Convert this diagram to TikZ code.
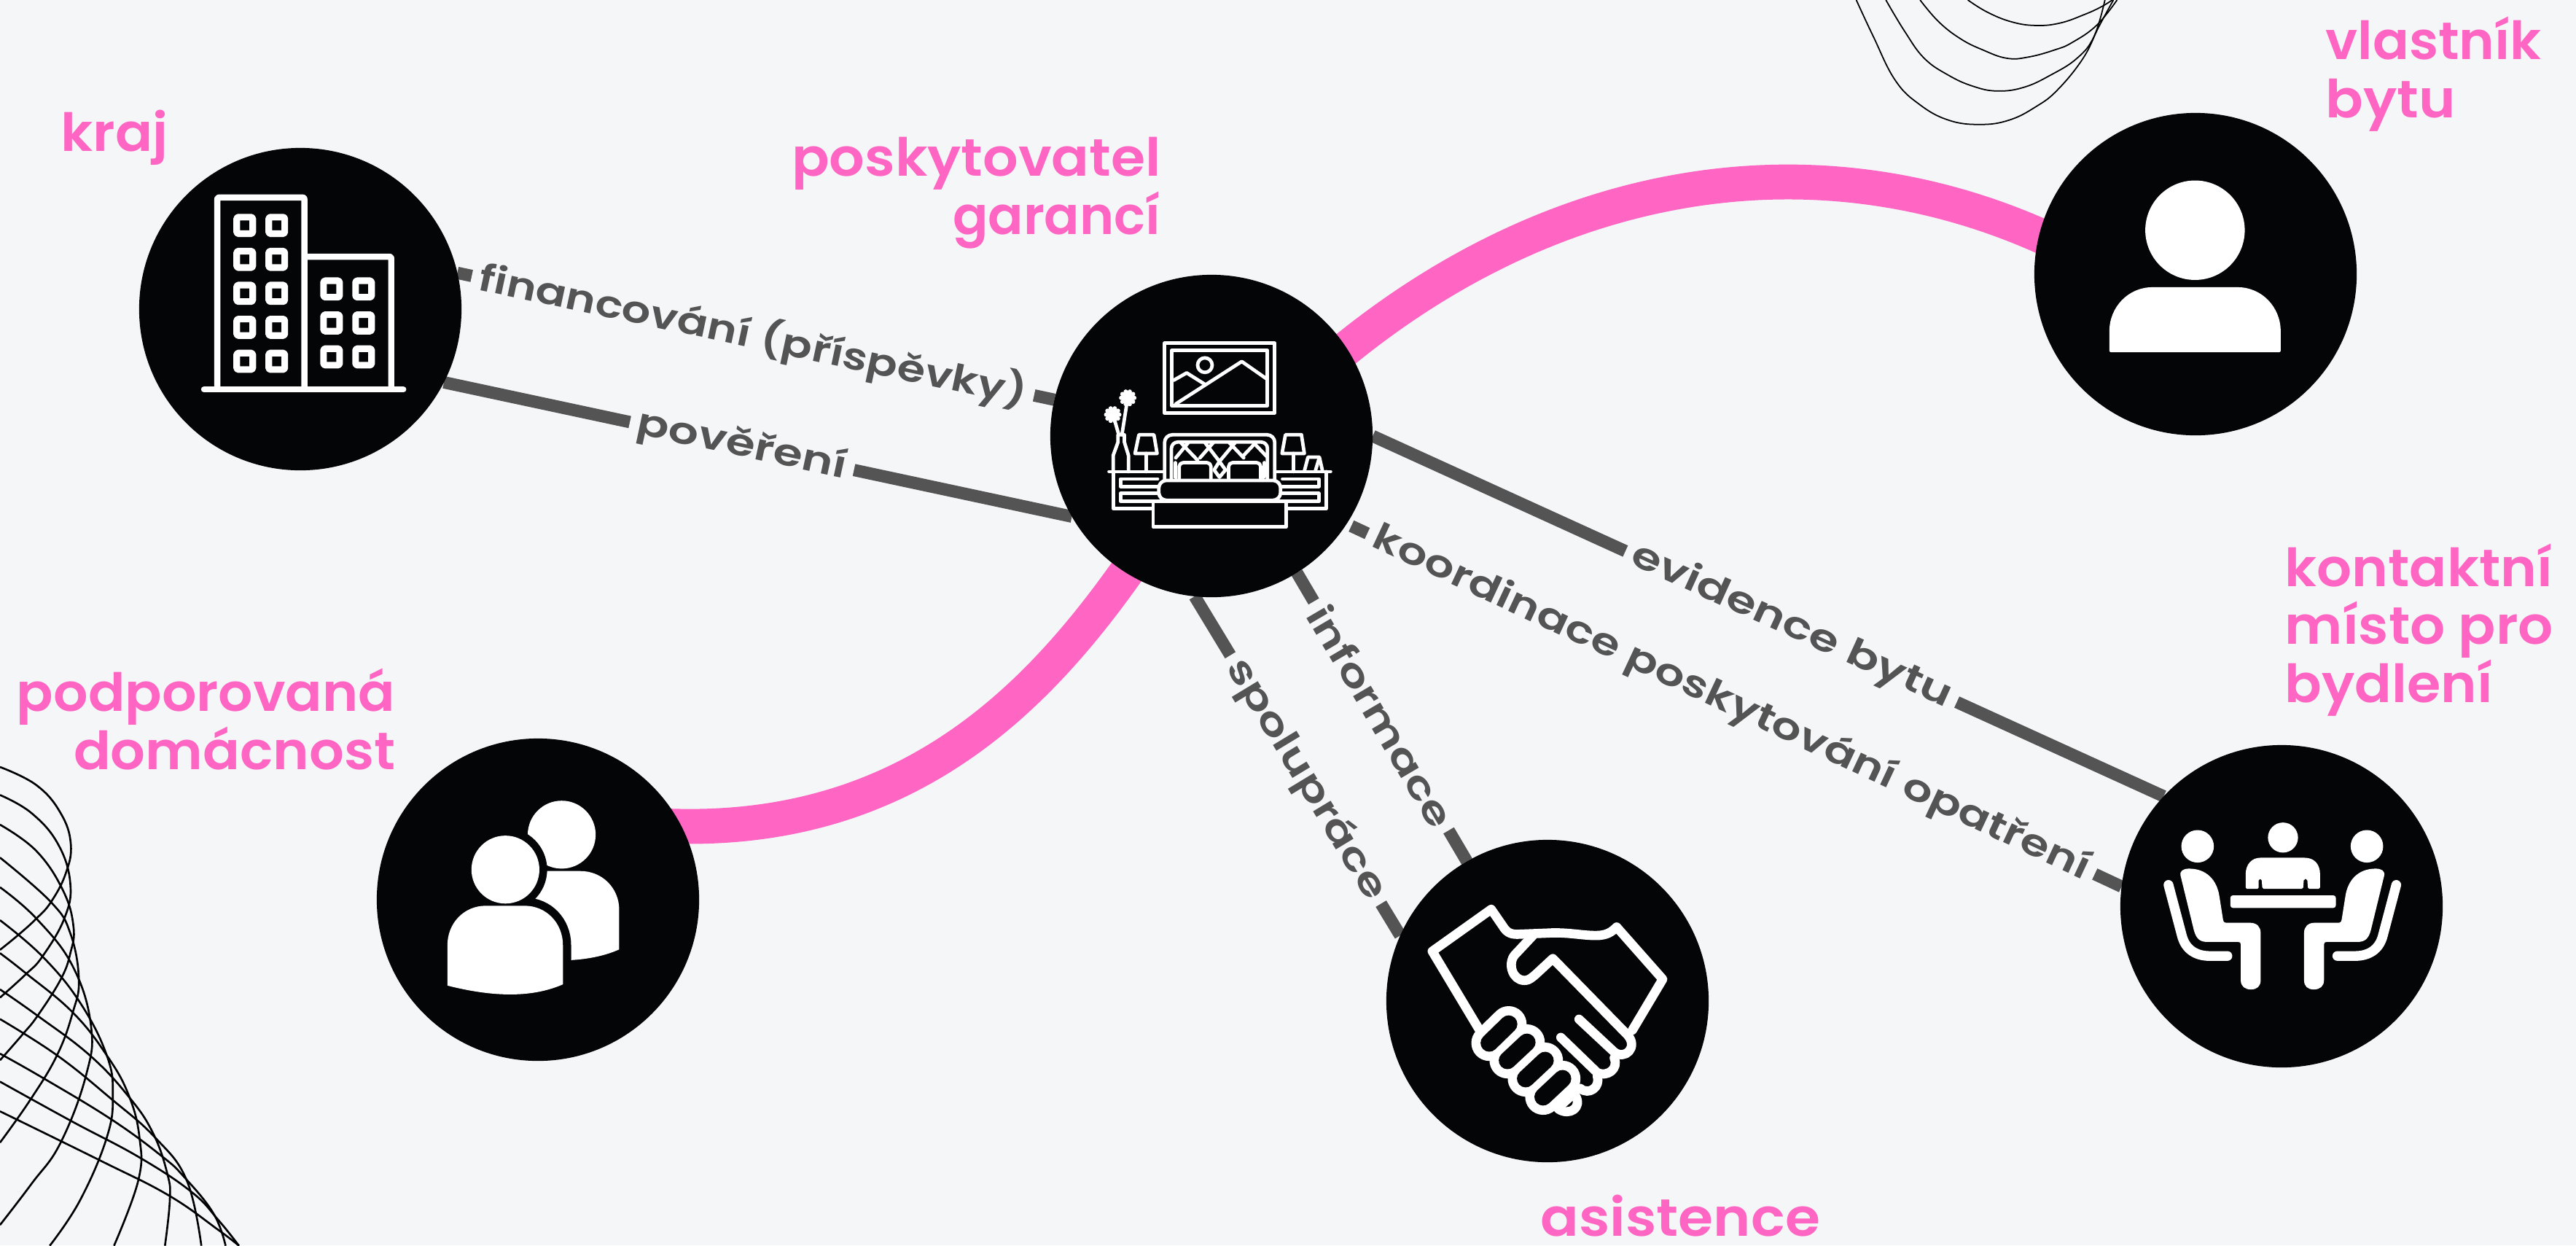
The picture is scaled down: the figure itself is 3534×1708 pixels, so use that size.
\documentclass[tikz,border=0pt]{standalone}
\usepackage{graphicx}
\usepackage{fontspec}
\setmainfont{Poppins}[BoldFont={Poppins SemiBold}]
\pgfdeclarelayer{backlay}
\pgfdeclarelayer{connlay}
\pgfsetlayers{backlay,connlay,main}
\definecolor{bgc}{HTML}{F5F6F8}
\definecolor{pinkc}{HTML}{FF66C4}
\definecolor{grayc}{HTML}{545454}
\definecolor{hubc}{HTML}{040507}
\newsavebox\fitbox
\newcommand\fitw[2]{\sbox\fitbox{#2}\pgfmathsetmacro\fitr{#1*0.28453/\the\wd\fitbox}\scalebox{\fitr}[1]{\usebox\fitbox}}
\newcommand\wirecurve[1]{\draw[thinwire] plot[smooth,tension=.7] coordinates {#1};}
\tikzset{
  hub/.style={circle,fill=hubc,minimum size=4.42cm,inner sep=0pt,outer sep=0pt},
  pinkline/.style={draw=pinkc,line width=13.6pt,shorten <=-5pt,shorten >=-5pt},
  grayline/.style={draw=grayc,line width=4.8pt},
  lab/.style={sloped,fill=bgc,text=grayc,inner xsep=3pt,inner ysep=1pt,font=\bfseries\fontsize{14.5}{16}\selectfont},
  ptitle/.style={text=pinkc,inner sep=0pt,font=\bfseries\fontsize{20.5}{22.48}\selectfont},
  zoomat/.style 2 args={shift={(#1,#2)},x=0.0033333cm,y=-0.0033333cm},
  ico/.style={draw=white,line width=#1,line join=round,line cap=round},
  ico/.default=1.35pt,
  thinwire/.style={draw=black,line width=0.6pt}
}
\begin{document}
\begin{tikzpicture}[x=0.01cm,y=-0.01cm]
\useasboundingbox (0,0) rectangle (3534,1708);
\begin{pgfonlayer}{backlay}
\fill[bgc] (0,0) rectangle (3534,1708);
\end{pgfonlayer}

\node[hub] (kraj) at (412,424) {};
\node[hub] (bed) at (1662,598) {};
\node[hub] (hand) at (2123,1373) {};
\node[hub] (meet) at (3130,1243) {};
\node[hub] (group) at (738,1234) {};
\node[hub] (owner) at (3012,376) {};

\begin{pgfonlayer}{connlay}
\draw[pinkline] (bed.33) .. controls (2140,235) and (2500,185) .. (owner.166);
\draw[pinkline] (group.27) .. controls (1250,1145) and (1430,950) .. (bed.238);
\draw[grayline] (kraj.13.5) -- node[lab,pos=.495]{\fitw{767}{financování (příspěvky)}} (bed.167);
\draw[grayline] (kraj.-27.7) -- node[lab,pos=.4745]{\fitw{293}{pověření}} (bed.210.5);
\draw[grayline] (bed.0) -- node[lab,pos=.529]{\fitw{478}{evidence bytu}} (meet.137);
\draw[grayline,shorten <=2pt] (bed.-33) -- node[lab,pos=.496]{\fitw{1080}{koordinace poskytování opatření}} (meet.173);
\draw[grayline] (bed.-58) -- node[lab,pos=.496]{\fitw{343}{informace}} (hand.120.3);
\draw[grayline] (bed.264.4) -- node[lab,pos=.54]{\fitw{377}{spolupráce}} (hand.156.3);
\end{pgfonlayer}

% pink titles
\node[ptitle,anchor=base west] (tkraj) at (83,207) {\fitw{147}{kraj}};
\node[ptitle,anchor=base east,align=right] (tposk) at (1593,321) {\fitw{506}{poskytovatel}\\\fitw{285}{garancí}};
\node[ptitle,anchor=base west,align=left] (town) at (3190,161) {\fitw{296}{vlastník}\\\fitw{178}{bytu}};
\node[ptitle,anchor=base west,align=left] (tkont) at (3134,963) {\fitw{367}{kontaktní}\\\fitw{368}{místo pro}\\\fitw{285}{bydlení}};
\node[ptitle,anchor=base east,align=right] (tpodp) at (543,1055) {\fitw{519}{podporovaná}\\\fitw{441}{domácnost}};
\node[ptitle,anchor=base west] (tasis) at (2113,1695) {\fitw{383}{asistence}};

% decorative wires, bottom left
\begin{scope}[shift={(0,1000)},x=0.0033333cm,y=-0.0045147cm,thinwire/.append style={line width=.75pt}]
\wirecurve{(0,115)(150,170)(250,255)(292,350)(270,440)(210,525)(150,575)(75,625)(0,670)}
\wirecurve{(0,200)(130,255)(240,350)(290,470)(265,575)(175,690)(105,745)(0,815)}
\wirecurve{(0,290)(150,370)(260,490)(303,600)(290,680)(250,760)(155,870)(95,925)(0,1005)}
\wirecurve{(0,390)(210,525)(290,620)(325,760)(300,860)(235,990)(125,1125)(0,1255)}
\wirecurve{(0,480)(150,575)(300,720)(375,900)(355,1050)(250,1255)(130,1380)(0,1505)}
\wirecurve{(0,580)(175,690)(330,830)(440,990)(465,1110)(440,1240)(330,1430)(205,1568)}
\wirecurve{(0,680)(105,740)(300,860)(440,990)(530,1110)(575,1240)(570,1370)(470,1568)}
\wirecurve{(0,790)(155,870)(370,990)(530,1115)(630,1225)(690,1350)(700,1430)(680,1568)}
\wirecurve{(0,880)(235,990)(455,1120)(640,1240)(770,1370)(830,1568)}
\wirecurve{(0,985)(180,1060)(460,1185)(665,1295)(760,1360)(880,1470)(930,1568)}
\wirecurve{(0,1070)(295,1190)(575,1300)(790,1405)(900,1490)(985,1568)}
\wirecurve{(0,1160)(415,1310)(695,1415)(900,1520)(985,1568)}
\end{scope}

% decorative wires, top right
\begin{scope}[zoomat={2500}{0},thinwire/.append style={line width=.5pt}]
\wirecurve{(140,0)(210,150)(300,330)(400,430)(520,495)(650,513)(770,495)(880,440)(970,370)(1075,240)(1140,110)(1200,0)}
\wirecurve{(262,0)(340,130)(420,240)(520,310)(620,355)(720,375)(830,360)(940,310)(1050,240)(1120,150)(1165,0)}
\wirecurve{(403,0)(480,90)(570,160)(660,205)(760,240)(850,235)(960,205)(1030,175)(1130,105)(1215,0)}
\wirecurve{(600,0)(680,50)(780,90)(880,105)(980,95)(1080,60)(1150,28)(1195,0)}
\end{scope}

% building icon
\begin{scope}[zoomat={180}{190}]
\draw[ico=2.4pt,line cap=butt,rounded corners=.6pt] (355,1033) -- (355,243) -- (714,243) -- (714,1033);
\draw[ico=2.4pt,line cap=butt,rounded corners=.6pt] (714,487) -- (1072,487) -- (1072,1033);
\draw[ico=2.3pt] (300,1034) -- (1122,1034);
\foreach \wx/\wy in {468/358,600/358,468/498,600/498,468/638,600/638,468/778,600/778,468/918,600/918,826/620,958/620,826/760,958/760,826/900,958/900}
  \draw[ico=2.6pt,rounded corners=.5pt] (\wx-33,\wy-34) rectangle (\wx+33,\wy+34);
\end{scope}

% bedroom icon
\begin{scope}[zoomat={1420}{370}]
\draw[ico] (533,303) rectangle (988,590);
\draw[ico] (564,332) rectangle (958,560);
\draw[ico] (700,393) circle (30);
\draw[ico] (572,455) -- (625,425) -- (700,472);
\draw[ico] (580,553) -- (852,378) -- (955,450);
\draw[ico] (305,832) -- (1218,832);
\draw[ico] (322,832) -- (322,985) -- (490,985);
\draw[ico] (1200,832) -- (1200,985) -- (1035,985);
\draw[ico] (505,862) -- (352,862) -- (352,893) -- (505,893);
\draw[ico] (505,922) -- (352,922) -- (352,955) -- (505,955);
\draw[ico] (1020,862) -- (1170,862) -- (1170,893) -- (1020,893);
\draw[ico] (1020,922) -- (1170,922) -- (1170,955) -- (1020,955);
\draw[ico] (428,680) -- (490,680) -- (503,757) -- (412,757) -- cycle;
\draw[ico] (458,757) -- (458,832);
\draw[ico] (1032,680) -- (1098,680) -- (1110,757) -- (1018,757) -- cycle;
\draw[ico] (1065,757) -- (1065,832);
\draw[ico] (1110,830) -- (1125,772) -- (1172,772) -- (1185,830);
\draw[ico] (1155,830) -- (1170,780);
\draw[ico] (322,832) -- (322,765) -- (342,710) -- (342,680) -- (368,680) -- (368,710) -- (385,765) -- (385,832);
\draw[ico] (345,680) -- (325,610);
\draw[ico] (358,680) -- (380,540);
\foreach \fx/\fy in {320/597,382/528}{
  \fill[white] (\fx,\fy) circle (27);
  \foreach \fa in {0,36,...,324}
    \fill[white] (\fx,\fy) ++(\fa:27) circle (9);
}
\draw[ico,fill=hubc,rounded corners=3pt] (534,865) -- (534,680) -- (988,680) -- (988,865);
\draw[ico,rounded corners=2.5pt] (562,865) -- (562,710) -- (958,710) -- (958,865);
\begin{scope}
\clip[rounded corners=2.5pt] (562,865) -- (562,710) -- (958,710) -- (958,865) -- cycle;
\draw[ico] (580,775) -- (632,712) (680,775) -- (735,712) (760,790) -- (825,712) (855,770) -- (910,712);
\draw[ico] (600,712) -- (670,785) (700,712) -- (760,790) (800,712) -- (860,775) (900,712) -- (960,775);
\draw[ico] (578,860) -- (578,795) (945,860) -- (945,795);
\end{scope}
\draw[ico] (760,790) -- (738,825) -- (760,855) -- (785,825) -- cycle;
\draw[ico,fill=hubc,rounded corners=1.5pt] (594,860) -- (594,795) -- (725,795) -- (725,860);
\draw[ico,fill=hubc,rounded corners=1.5pt] (798,860) -- (798,795) -- (930,795) -- (930,860);
\draw[ico,fill=hubc,rounded corners=3pt] (510,950) -- (510,868) -- (1012,868) -- (1012,950) -- cycle;
\draw[ico,fill=hubc] (487,955) -- (487,1060) -- (1035,1060) -- (1035,955) -- cycle;
\end{scope}

% handshake icon
\begin{scope}[zoomat={1890}{1150}]
\draw[ico=3.6pt] (420,790) -- (225,465) -- (468,292) -- (515,360) .. controls (530,385) and (545,395) .. (575,395) -- (700,390) .. controls (780,385) and (840,400) .. (900,400) .. controls (945,400) and (965,385) .. (985,365) -- (1175,580) -- (1050,790);
\draw[ico=3.6pt] (640,400) -- (565,480) .. controls (535,515) and (555,585) .. (605,585) .. controls (630,585) and (640,570) .. (722,495) -- (1030,810) .. controls (1075,860) and (1020,915) .. (975,880) -- (830,745);
\draw[ico=3.6pt] (755,820) -- (905,965) .. controls (945,985) and (995,950) .. (975,905);
\draw[ico=3.6pt] (835,1030) .. controls (870,1060) and (920,1025) .. (905,980);
\draw[ico=3.6pt] (815,1060) .. controls (845,1110) and (790,1145) .. (745,1115);
\draw[white,line width=3.6pt,line cap=round] (760,1095) -- (815,1045);
\foreach \ax/\ay/\bx/\by in {460/843/540/765,535/915/615/840,610/990/690/915,682/1065/762/990}
  \draw[white,line width=14pt,line cap=round] (\ax,\ay) -- (\bx,\by);
\foreach \ax/\ay/\bx/\by in {460/843/540/765,535/915/615/840,610/990/690/915,682/1065/762/990}
  \draw[hubc,line width=6.8pt,line cap=round] (\ax,\ay) -- (\bx,\by);
\end{scope}

% meeting icon
\begin{scope}[zoomat={2900}{1020}]
\fill[white] (345,423) circle (67) (697,387) circle (62) (1043,423) circle (67);
\fill[white,rounded corners=1pt] (480,625) rectangle (915,677);
\fill[white,rounded corners=.5pt] (543,598) -- (543,545) .. controls (543,495) and (570,470) .. (610,470) -- (780,470) .. controls (825,470) and (850,495) .. (850,545) -- (850,598) -- (800,598) -- (797,558) -- (783,558) -- (780,598) -- (612,598) -- (609,558) -- (597,558) -- (597,598) -- cycle;
\foreach \mirs/\mirx in {1/0,-1/1389}{
\begin{scope}[shift={(\mirx,0)},xscale=\mirs]
\fill[white] (275,545) .. controls (270,525) and (285,515) .. (310,515) .. controls (380,515) and (425,560) .. (435,630) -- (450,725) .. controls (452,735) and (455,738) .. (465,738) -- (560,738) .. controls (590,738) and (605,755) .. (605,780) -- (605,975) .. controls (605,1000) and (590,1013) .. (565,1013) .. controls (540,1013) and (523,1000) .. (523,975) -- (523,828) .. controls (523,820) and (520,817) .. (512,817) -- (385,817) .. controls (355,817) and (340,805) .. (330,770) -- cycle;
\draw[white,line width=3.8pt,line cap=round] (225,582) -- (280,790) .. controls (295,850) and (340,875) .. (395,875) -- (468,875);
\end{scope}}
\end{scope}

% group icon
\begin{scope}[zoomat={510}{1010}]
\fill[white] (783,405) circle (140);
\fill[white] (650,555) -- (860,555) .. controls (950,555) and (1020,625) .. (1020,715) -- (1020,878) .. controls (960,905) and (890,918) .. (822,922) -- (600,922) -- cycle;
\fill[hubc] (551,549) circle (172);
\draw[hubc,line width=6.4pt,fill=hubc] (312,1027) -- (312,860) .. controls (312,770) and (380,698) .. (470,698) -- (630,698) .. controls (720,698) and (788,770) .. (788,860) -- (788,1022);
\fill[white] (551,549) circle (140);
\fill[white] (312,1027) -- (312,860) .. controls (312,770) and (380,698) .. (470,698) -- (630,698) .. controls (720,698) and (788,770) .. (788,860) -- (788,1022) .. controls (700,1060) and (560,1090) .. (312,1027) -- cycle;
\end{scope}

% owner icon
\begin{scope}[zoomat={2790}{150}]
\fill[white] (665,498) circle (205);
\fill[white,rounded corners=.6pt] (312,1001) -- (312,920) .. controls (312,815) and (390,733) .. (495,733) -- (835,733) .. controls (940,733) and (1018,815) .. (1018,920) -- (1018,1001) -- cycle;
\end{scope}
\end{tikzpicture}
\end{document}
